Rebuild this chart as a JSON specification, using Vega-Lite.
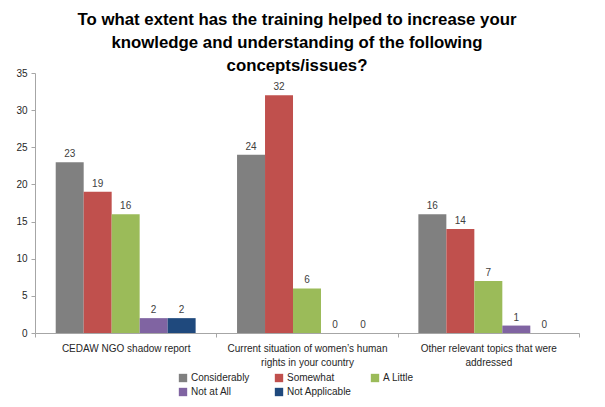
{
  "$schema": "https://vega.github.io/schema/vega-lite/v6.json",
  "width": 544,
  "height": 260,
  "autosize": {"type": "none"},
  "padding": {"left": 35, "top": 73, "right": 26, "bottom": 74},
  "background": "white",
  "title": {
    "text": ["To what extent has the training helped to increase your", "knowledge and understanding of the following", "concepts/issues?"],
    "fontSize": 16.8,
    "fontWeight": "bold",
    "font": "Liberation Sans",
    "color": "#000000",
    "lineHeight": 23,
    "anchor": "middle",
    "frame": "group",
    "dx": -10,
    "offset": -7
  },
  "data": {
    "values": [
      {"category": "CEDAW NGO shadow report", "response": "Considerably", "value": 23},
      {"category": "CEDAW NGO shadow report", "response": "Somewhat", "value": 19},
      {"category": "CEDAW NGO shadow report", "response": "A Little", "value": 16},
      {"category": "CEDAW NGO shadow report", "response": "Not at All", "value": 2},
      {"category": "CEDAW NGO shadow report", "response": "Not Applicable", "value": 2},
      {"category": "Current situation of women’s human rights in your country", "response": "Considerably", "value": 24},
      {"category": "Current situation of women’s human rights in your country", "response": "Somewhat", "value": 32},
      {"category": "Current situation of women’s human rights in your country", "response": "A Little", "value": 6},
      {"category": "Current situation of women’s human rights in your country", "response": "Not at All", "value": 0},
      {"category": "Current situation of women’s human rights in your country", "response": "Not Applicable", "value": 0},
      {"category": "Other relevant topics that were addressed", "response": "Considerably", "value": 16},
      {"category": "Other relevant topics that were addressed", "response": "Somewhat", "value": 14},
      {"category": "Other relevant topics that were addressed", "response": "A Little", "value": 7},
      {"category": "Other relevant topics that were addressed", "response": "Not at All", "value": 1},
      {"category": "Other relevant topics that were addressed", "response": "Not Applicable", "value": 0}
    ]
  },
  "encoding": {
    "x": {
      "field": "category",
      "type": "nominal",
      "sort": null,
      "scale": {"paddingInner": 0, "paddingOuter": 0},
      "axis": {
        "title": null,
        "labelAngle": 0,
        "tickBand": "extent",
        "domainColor": "#A6A6A6",
        "tickColor": "#A6A6A6",
        "tickSize": 4,
        "labelPadding": 6,
        "labelFontSize": 10,
        "labelColor": "#262626",
        "labelLineHeight": 14,
        "labelBaseline": "top",
        "labelExpr": "indexof(datum.label,'Current')==0 ? ['Current situation of women’s human','rights in your country'] : indexof(datum.label,'Other')==0 ? ['Other relevant topics that were','addressed'] : datum.label"
      }
    },
    "xOffset": {
      "field": "response",
      "type": "nominal",
      "sort": ["Considerably", "Somewhat", "A Little", "Not at All", "Not Applicable"],
      "scale": {"paddingInner": 0, "paddingOuter": 0.74}
    },
    "y": {
      "field": "value",
      "type": "quantitative",
      "scale": {"domain": [0, 35]},
      "axis": {
        "title": null,
        "values": [0, 5, 10, 15, 20, 25, 30, 35],
        "grid": false,
        "tickSize": 4,
        "domainColor": "#A6A6A6",
        "tickColor": "#A6A6A6",
        "labelPadding": 4,
        "labelFontSize": 10,
        "labelColor": "#262626"
      }
    }
  },
  "layer": [
    {
      "mark": {"type": "bar"},
      "encoding": {
        "color": {
          "field": "response",
          "type": "nominal",
          "sort": ["Considerably", "Somewhat", "A Little", "Not at All", "Not Applicable"],
          "scale": {
            "domain": ["Considerably", "Somewhat", "A Little", "Not at All", "Not Applicable"],
            "range": ["#808080", "#C0504D", "#9BBB59", "#8064A2", "#1F497D"]
          },
          "legend": {
            "title": null,
            "orient": "none",
            "legendX": 143,
            "legendY": 300,
            "columns": 3,
            "direction": "horizontal",
            "symbolType": "square",
            "symbolSize": 70,
            "symbolStrokeWidth": 0,
            "symbolOpacity": 1,
            "labelFontSize": 10,
            "labelColor": "#262626",
            "gridAlign": "all",
            "columnPadding": 18,
            "rowPadding": 4,
            "labelOffset": 3
          }
        }
      }
    },
    {
      "mark": {"type": "text", "dy": -8, "fontSize": 10, "color": "#404040"},
      "encoding": {
        "text": {"field": "value", "type": "quantitative"}
      }
    }
  ],
  "config": {
    "font": "Liberation Sans",
    "view": {"stroke": null}
  }
}
